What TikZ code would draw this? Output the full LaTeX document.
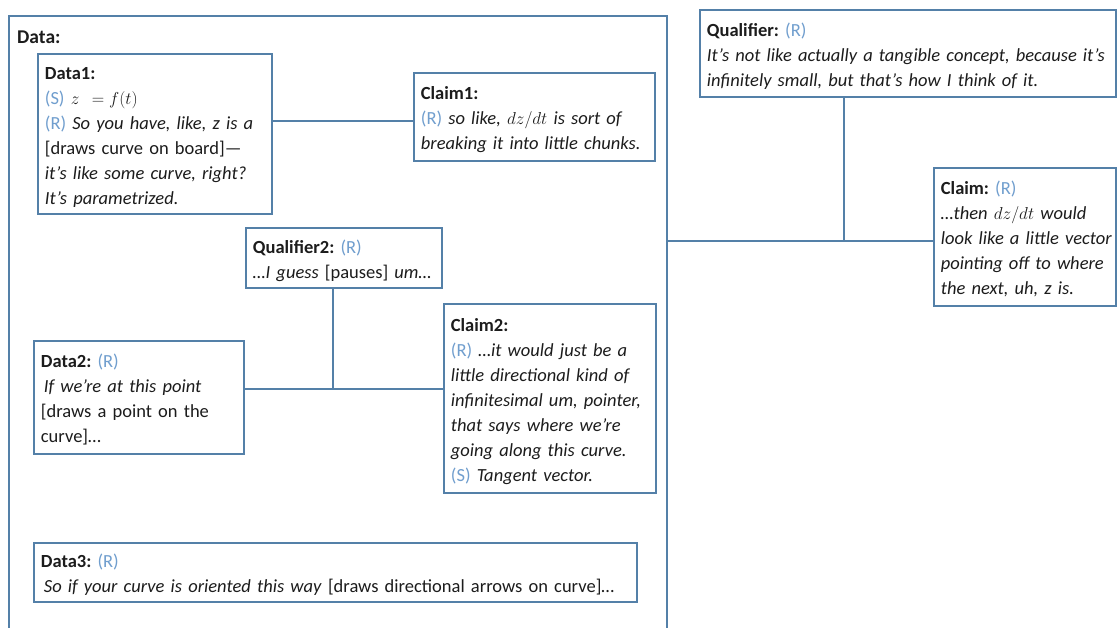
\documentclass[tikz,border=0pt]{standalone}
\usepackage{fontspec}
\setmainfont{Carlito}
\usetikzlibrary{calc}
\definecolor{edgeblue}{RGB}{84,128,168}
\definecolor{tagblue}{RGB}{112,158,206}
\definecolor{ink}{RGB}{28,28,28}
\frenchspacing
\newcommand{\tg}[1]{\textcolor{tagblue}{\upshape #1}}
% one block of hand-broken lines, nudged a little below the box centre
\newcommand{\tb}[1]{\raisebox{-3pt}[\height][\depth]{\begin{tabular}{@{}l@{}}#1\end{tabular}}}
\begin{document}
\begin{tikzpicture}[x=1pt,y=-1pt,
  every node/.style={text=ink},
  box/.style={draw=edgeblue, line width=1.8pt, fill=white, anchor=north west,
    align=left, inner xsep=7pt, inner ysep=0pt,
    font=\fontsize{18.5}{25}\selectfont},
  link/.style={draw=edgeblue, line width=1.8pt}]
\useasboundingbox (0,0) rectangle (1118,628);
\clip (0,0) rectangle (1118,628);
\fill[white] (0,0) rectangle (1118,628);

% outer group for the data side (open at the bottom edge)
\node[draw=edgeblue, line width=1.8pt, anchor=north west, inner sep=0pt,
      minimum width=658pt, minimum height=640pt] (grp) at (8,15) {};
\node[anchor=west, inner sep=0pt, font=\fontsize{19.5}{25}\selectfont\bfseries] (grplabel) at (17,37) {Data:};

% boxes
\node[box, text width=220pt, minimum height=160pt] (data1) at (37,53) {\tb{%
  \textbf{Data1:}\\
  \tg{(S)} $z\;\,=f(t)$\\
  \tg{(R)} \textit{So you have, like, z is a}\\
  {}[draws curve on board]—\\
  \textit{it's like some curve, right?}\\
  \textit{It's parametrized.}}};

\node[box, text width=227pt, minimum height=88pt] (claim1) at (413,72) {\tb{%
  \textbf{Claim1:}\\
  \tg{(R)} \textit{so like, $dz/dt$ is sort of}\\
  \textit{breaking it into little chunks.}}};

\node[box, text width=402pt, minimum height=87pt] (qual) at (699,9) {\tb{%
  \textbf{Qualifier:} \tg{(R)}\\
  \textit{It's not like actually a tangible concept, because it's}\\
  \textit{infinitely small, but that's how I think of it.}}};

\node[box, text width=168pt, minimum height=138pt] (claim) at (933,167) {\tb{%
  \textbf{Claim:} \tg{(R)}\\
  \textit{…then $dz/dt$ would}\\
  \textit{look like a little vector}\\
  \textit{pointing off to where}\\
  \textit{the next, uh, z is.}}};

\node[box, text width=182pt, minimum height=60pt] (qual2) at (245,227) {\tb{%
  \textbf{Qualifier2:} \tg{(R)}\\
  \textit{…I guess} [pauses] \textit{um…}}};

\node[box, text width=196pt, minimum height=113pt] (data2) at (33,340) {\tb{%
  \textbf{Data2:} \tg{(R)}\\
  \hspace*{3pt}\textit{If we're at this point}\\
  {}[draws a point on the\\
  curve]…}};

\node[box, text width=198pt, minimum height=189pt] (claim2) at (443,303) {\tb{%
  \textbf{Claim2:}\\
  \tg{(R)} \textit{…it would just be a}\\
  \textit{little directional kind of}\\
  \textit{infinitesimal um, pointer,}\\
  \textit{that says where we're}\\
  \textit{going along this curve.}\\
  \tg{(S)} \textit{Tangent vector.}}};

\node[box, text width=589pt, minimum height=59pt] (data3) at (33,542) {\tb{%
  \textbf{Data3:} \tg{(R)}\\
  \hspace*{3pt}\textit{So if your curve is oriented this way} [draws directional arrows on curve]…}};

% junction points
\coordinate (j1) at (0,121);
\coordinate (jq) at (844,241);
\coordinate (j2) at (333,389);

% connectors
\draw[link] (data1.east |- j1) -- (claim1.west |- j1);
\draw[link] (grp.east |- jq) -- (claim.west |- jq);
\draw[link] (jq) -- (jq |- qual.south);
\draw[link] (data2.east |- j2) -- (claim2.west |- j2);
\draw[link] (j2) -- (j2 |- qual2.south);
\end{tikzpicture}
\end{document}
